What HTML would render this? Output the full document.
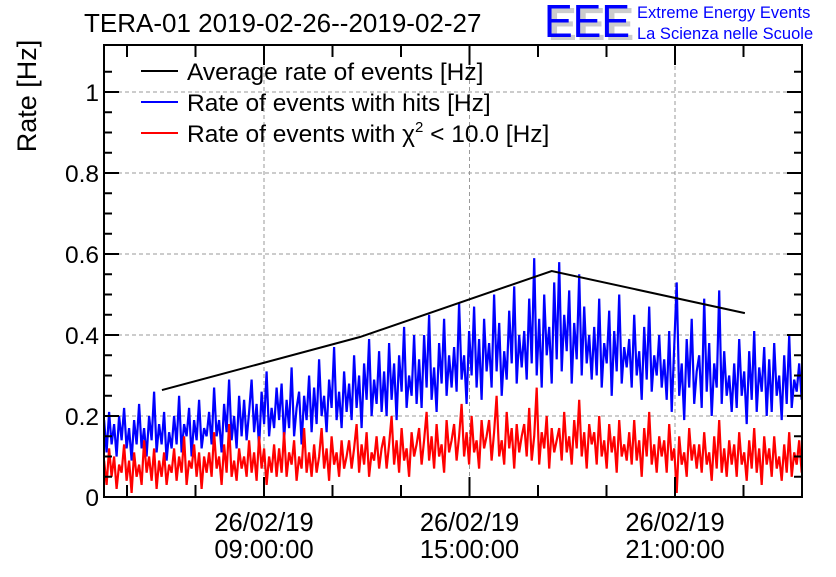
<!DOCTYPE html>
<html><head><meta charset="utf-8"><style>
body{margin:0;background:#fff;}
svg text{font-family:"Liberation Sans",sans-serif;}
</style></head><body>
<svg id="chart" width="836" height="572" viewBox="0 0 836 572" xmlns="http://www.w3.org/2000/svg">
<rect width="836" height="572" fill="#fff"/>
<text x="84" y="32" font-size="26">TERA-01 2019-02-26--2019-02-27</text>
<g>
<text x="548" y="40" font-size="46" fill="#ccc" font-weight="bold" textLength="86" lengthAdjust="spacingAndGlyphs">EEE</text>
<text x="544" y="37" font-size="46" fill="#00f" textLength="86" lengthAdjust="spacingAndGlyphs">EEE</text>
<text x="637" y="18" font-size="16.5" fill="#00f">Extreme Energy Events</text>
<text x="637" y="39" font-size="16.5" fill="#00f">La Scienza nelle Scuole</text>
</g>
<text transform="translate(36,96) rotate(-90)" text-anchor="middle" font-size="27">Rate [Hz]</text>
<g id="grid"></g>
<g id="series"></g>
<g id="axes"></g>
<g>
<line x1="141" y1="71" x2="178" y2="71" stroke="#000" stroke-width="2"/>
<text x="187" y="80" font-size="24.5">Average rate of events [Hz]</text>
<line x1="141" y1="102" x2="178" y2="102" stroke="#00f" stroke-width="2"/>
<text x="187" y="111" font-size="24.5">Rate of events with hits [Hz]</text>
<line x1="141" y1="133" x2="178" y2="133" stroke="#f00" stroke-width="2"/>
<text x="187" y="142" font-size="24.5">Rate of events with χ<tspan font-size="15" dy="-10">2</tspan><tspan dy="10"> &lt; 10.0 [Hz]</tspan></text>
</g>
</svg>
<script>
const avgTimes=[6.02,11.8,17.4,23.04];
const avgValues=[0.264,0.395,0.558,0.454];
const hitsValues=[
0.19,0.11,0.21,0.13,0.18,0.10,0.20,0.14,0.22,0.12,0.17,0.09,0.19,0.13,
0.23,0.12,0.17,0.10,0.20,0.14,0.26,0.11,0.18,0.13,0.21,0.09,0.16,0.12,
0.20,0.13,0.25,0.11,0.18,0.15,0.22,0.10,0.19,0.14,0.24,0.12,0.17,0.15,
0.21,0.13,0.27,0.15,0.19,0.11,0.23,0.16,0.29,0.14,0.20,0.12,0.25,0.15,
0.24,0.14,0.21,0.29,0.16,0.23,0.12,0.26,0.18,0.31,0.15,0.22,0.17,0.27,
0.19,0.28,0.14,0.24,0.17,0.32,0.15,0.22,0.26,0.13,0.25,0.19,0.30,0.16,
0.27,0.18,0.34,0.20,0.25,0.16,0.29,0.22,0.37,0.19,0.26,0.17,0.31,0.21,
0.28,0.19,0.35,0.22,0.30,0.17,0.33,0.24,0.39,0.20,0.29,0.23,0.36,0.21,
0.31,0.20,0.38,0.24,0.33,0.19,0.35,0.26,0.42,0.22,0.30,0.25,0.40,0.23,
0.34,0.22,0.40,0.27,0.45,0.24,0.32,0.21,0.38,0.28,0.44,0.25,0.35,0.27,
0.37,0.26,0.48,0.29,0.35,0.23,0.41,0.30,0.47,0.27,0.39,0.24,0.44,0.31,
0.38,0.27,0.50,0.31,0.43,0.25,0.36,0.29,0.46,0.33,0.52,0.28,0.40,0.32,
0.41,0.29,0.49,0.33,0.59,0.30,0.44,0.27,0.50,0.35,0.42,0.28,0.53,0.34,
0.58,0.31,0.45,0.36,0.51,0.28,0.43,0.34,0.55,0.30,0.47,0.33,0.40,0.29,
0.42,0.30,0.49,0.27,0.38,0.33,0.46,0.25,0.41,0.31,0.50,0.28,0.37,0.32,
0.39,0.27,0.45,0.30,0.36,0.24,0.42,0.29,0.47,0.26,0.35,0.30,0.40,0.27,
0.34,0.24,0.41,0.21,0.37,0.53,0.25,0.33,0.19,0.39,0.27,0.44,0.23,0.31,
0.35,0.22,0.49,0.26,0.38,0.20,0.33,0.27,0.51,0.23,0.36,0.25,0.30,0.21,
0.33,0.22,0.39,0.25,0.31,0.18,0.36,0.24,0.41,0.21,0.32,0.26,0.37,0.20,
0.34,0.21,0.38,0.25,0.30,0.19,0.35,0.23,0.40,0.22,0.29,0.26,0.33,0.24];
const chi2Values=[
0.09,0.03,0.12,0.05,0.10,0.02,0.08,0.06,0.13,0.04,0.09,0.01,0.11,0.05,
0.08,0.03,0.14,0.06,0.10,0.04,0.12,0.02,0.09,0.05,0.11,0.03,0.08,0.06,
0.12,0.04,0.10,0.06,0.15,0.03,0.09,0.07,0.13,0.05,0.11,0.02,0.10,0.06,
0.11,0.05,0.16,0.07,0.10,0.03,0.13,0.06,0.18,0.05,0.09,0.04,0.12,0.07,
0.10,0.05,0.14,0.06,0.11,0.04,0.15,0.07,0.12,0.03,0.10,0.06,0.13,0.05,
0.12,0.06,0.16,0.05,0.11,0.08,0.14,0.04,0.10,0.07,0.17,0.06,0.11,0.05,
0.13,0.06,0.10,0.17,0.07,0.12,0.04,0.15,0.08,0.11,0.05,0.14,0.07,0.10,
0.14,0.07,0.12,0.18,0.06,0.13,0.08,0.16,0.05,0.11,0.09,0.15,0.07,0.12,
0.15,0.07,0.13,0.20,0.08,0.14,0.06,0.17,0.09,0.12,0.05,0.16,0.10,0.13,
0.17,0.08,0.14,0.21,0.09,0.15,0.07,0.18,0.10,0.13,0.06,0.19,0.11,0.14,
0.18,0.09,0.15,0.23,0.10,0.16,0.08,0.20,0.11,0.14,0.07,0.19,0.12,0.15,
0.19,0.09,0.16,0.25,0.10,0.14,0.08,0.21,0.12,0.17,0.07,0.18,0.11,0.15,
0.18,0.10,0.22,0.09,0.15,0.27,0.08,0.16,0.12,0.20,0.07,0.17,0.11,0.14,
0.17,0.09,0.21,0.11,0.15,0.08,0.19,0.12,0.24,0.10,0.16,0.07,0.18,0.13,
0.16,0.08,0.20,0.10,0.14,0.07,0.18,0.11,0.15,0.06,0.19,0.10,0.13,0.09,
0.16,0.08,0.19,0.09,0.14,0.05,0.17,0.10,0.21,0.08,0.13,0.06,0.15,0.10,
0.14,0.06,0.18,0.09,0.12,0.01,0.15,0.08,0.11,0.05,0.17,0.09,0.13,0.07,
0.13,0.06,0.16,0.08,0.11,0.04,0.15,0.07,0.19,0.06,0.12,0.05,0.14,0.08,
0.13,0.05,0.16,0.08,0.11,0.04,0.14,0.07,0.17,0.06,0.12,0.03,0.15,0.08,
0.12,0.05,0.15,0.07,0.10,0.04,0.13,0.06,0.16,0.05,0.11,0.08,0.14,0.06];
const seriesStart=4.33, seriesEnd=24.7;
const yTickValues=[0,0.2,0.4,0.6,0.8,1];
const yTickLabels=["0","0.2","0.4","0.6","0.8","1"];
const xTickHours=[9,15,21];
const xTickLabels=[["26/02/19","09:00:00"],["26/02/19","15:00:00"],["26/02/19","21:00:00"]];

const L=104,R=802,T=45,B=497;
const xs=h=>264+(h-9)*34.25;
const ys=v=>B-v*405;
const NS="http://www.w3.org/2000/svg";
function mk(tag,attrs,parent){const e=document.createElementNS(NS,tag);for(const k in attrs)e.setAttribute(k,attrs[k]);parent.appendChild(e);return e;}
const grid=document.getElementById('grid'),ser=document.getElementById('series'),ax=document.getElementById('axes');
yTickValues.forEach(v=>{if(v>0){const l=mk('line',{x1:L,x2:R,y1:ys(v),y2:ys(v),stroke:'#999','stroke-dasharray':'4,3'},grid);

}});
xTickHours.forEach(h=>{const l=mk('line',{x1:xs(h),x2:xs(h),y1:T,y2:B,stroke:'#999','stroke-dasharray':'4,3'},grid);

});
function poly(vals,color,name){const n=vals.length;const dt=(seriesEnd-seriesStart)/(n-1);
const pts=vals.map((v,i)=>xs(seriesStart+i*dt).toFixed(1)+','+ys(v).toFixed(1)).join(' ');
const p=mk('polyline',{points:pts,fill:'none',stroke:color,'stroke-width':2.2,'stroke-linejoin':'miter'},ser);

}
poly(hitsValues,'#00f','hits-rate-line');
poly(chi2Values,'#f00','chi2-rate-line');
const ap=mk('polyline',{points:avgTimes.map((t,i)=>xs(t)+','+ys(avgValues[i])).join(' '),fill:'none',stroke:'#000','stroke-width':2},ser);


const fr=mk('rect',{x:L,y:T,width:R-L,height:B-T,fill:'none',stroke:'#000','stroke-width':2},ax);


for(let v=0;v<=1.1;v+=0.05){const vv=Math.round(v*100)/100;const major=Math.abs(vv*5-Math.round(vv*5))<1e-6;const len=major?15:8;
mk('line',{x1:L,x2:L+len,y1:ys(vv),y2:ys(vv),stroke:'#000','stroke-width':2},ax);
mk('line',{x1:R,x2:R-len,y1:ys(vv),y2:ys(vv),stroke:'#000','stroke-width':2},ax);}
yTickValues.forEach((v,i)=>{const t=mk('text',{x:99,y:ys(v)+9,'text-anchor':'end','font-size':24.5},ax);t.textContent=yTickLabels[i];

});
for(let h=5;h<=24.7;h+=2){const major=[9,15,21].includes(h);const len=major?20:12;
mk('line',{x1:xs(h),x2:xs(h),y1:B,y2:B-len,stroke:'#000','stroke-width':2},ax);
mk('line',{x1:xs(h),x2:xs(h),y1:T,y2:T+len,stroke:'#000','stroke-width':2},ax);}
xTickHours.forEach((h,i)=>{const t=mk('text',{x:xs(h),y:531,'text-anchor':'middle','font-size':25.5},ax);t.textContent=xTickLabels[i][0];


const t2=mk('text',{x:xs(h),y:558,'text-anchor':'middle','font-size':25.5},ax);t2.textContent=xTickLabels[i][1];

});
</script>
</body></html>
